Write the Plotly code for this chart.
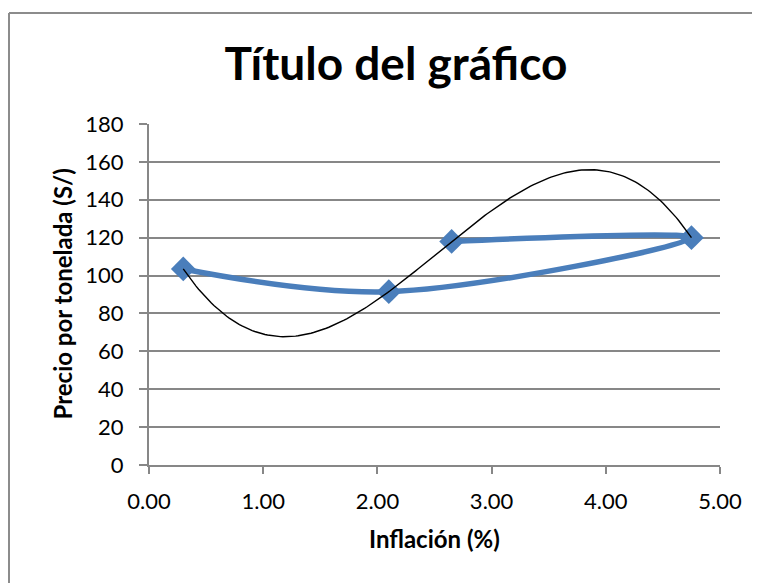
import numpy as np
import plotly.graph_objects as go

# Data (series order as plotted)
inflacion = [0.30, 2.10, 4.75, 2.65]
precio = [103.5, 91.5, 120.0, 118.0]

x_ticks = [0, 1, 2, 3, 4, 5]
x_tick_labels = ["0.00", "1.00", "2.00", "3.00", "4.00", "5.00"]
y_ticks = [0, 20, 40, 60, 80, 100, 120, 140, 160, 180]

# Polynomial (order 3) trendline computed from the data
coef = np.polyfit(inflacion, precio, 3)
xt = np.linspace(min(inflacion), max(inflacion), 200)
yt = np.polyval(coef, xt)

FONT = "Lato, Carlito, Calibri, sans-serif"
BLUE = "#4A7EBB"
GRID = "#878787"

fig = go.Figure()
fig.add_trace(go.Scatter(
    x=inflacion, y=precio, mode="lines+markers",
    line=dict(color=BLUE, width=5.5, shape="spline", smoothing=1.0),
    marker=dict(symbol="diamond", size=19, color=BLUE),
    showlegend=False, hoverinfo="x+y",
))
fig.add_trace(go.Scatter(
    x=xt, y=yt, mode="lines",
    line=dict(color="black", width=1.4),
    showlegend=False, hoverinfo="skip",
))

# The page body adds an 8px offset, so the figure is 752x575
W, H = 752, 575
L, R, T, B = 141, 40, 116, 118
pw, ph = W - L - R, H - T - B

fig.update_layout(
    width=W, height=H,
    margin=dict(l=L, r=R, t=T, b=B),
    paper_bgcolor="white", plot_bgcolor="white",
    font=dict(family=FONT, color="black"),
    title=dict(text="<b>Título del gráfico</b>", font=dict(size=46, family=FONT),
               x=388 / W, xref="container", xanchor="center",
               y=1 - 56 / H, yref="container", yanchor="middle"),
    xaxis=dict(
        range=[0, 5], tickvals=x_ticks, ticktext=x_tick_labels,
        showgrid=False, zeroline=False,
        showline=True, linecolor=GRID, linewidth=2,
        ticks="outside", ticklen=7, tickcolor=GRID, tickwidth=1.5,
        tickfont=dict(size=22, family=FONT), ticklabelstandoff=9,
    ),
    yaxis=dict(
        range=[0, 180], tickvals=y_ticks,
        showgrid=True, gridcolor=GRID, gridwidth=1.5, zeroline=False,
        showline=True, linecolor=GRID, linewidth=2,
        ticks="outside", ticklen=8, tickcolor=GRID, tickwidth=1.5,
        tickfont=dict(size=22, family=FONT), ticklabelstandoff=11,
    ),
    annotations=[
        dict(text="<b>Inflación (%)</b>", xref="paper", yref="paper",
             x=0.5, y=0, xanchor="center", yanchor="middle", yshift=-73,
             showarrow=False, font=dict(size=24, family=FONT)),
        dict(text="<b>Precio por tonelada (S/)</b>", xref="paper", yref="paper",
             x=0, y=0.5, xanchor="center", yanchor="middle", xshift=-87,
             textangle=-90, showarrow=False, font=dict(size=24, family=FONT)),
    ],
)

# Chart-area border (top and left edges visible in the reference)
x_left = (1 - L) / pw
y_top = (H - B - 5) / ph
fig.add_shape(type="line", xref="paper", yref="paper",
              x0=x_left, x1=(W + 20 - L) / pw, y0=y_top, y1=y_top,
              line=dict(color="#8C8C8C", width=2))
fig.add_shape(type="line", xref="paper", yref="paper",
              x0=x_left, x1=x_left, y0=y_top, y1=-(B + 20) / ph,
              line=dict(color="#8C8C8C", width=2))

fig.write_html("out.html")
